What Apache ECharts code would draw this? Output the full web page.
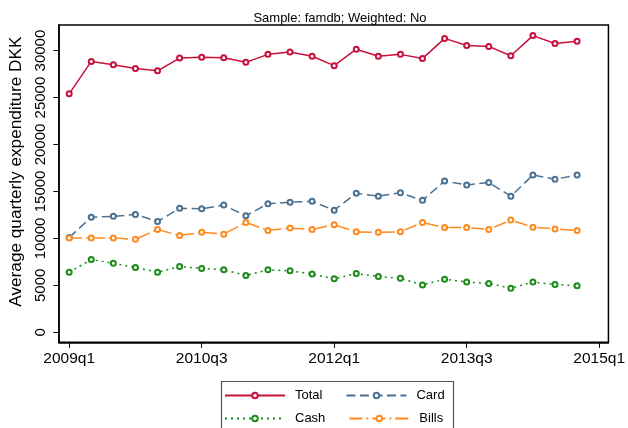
<!DOCTYPE html>
<html style="height: 100%">
<head>
    <meta charset="utf-8">
    <title>Average quarterly expenditure</title>
    <script src="https://cdn.jsdelivr.net/npm/echarts@6/dist/echarts.min.js"></script>
</head>
<body style="height: 100%; margin: 0; background: #fff">
    <div id="chart" style="width: 628px; height: 428px"></div>
    <script>
        // quarters 2009q1 .. 2014q4
        const quarters = ['2009q1', '2009q2', '2009q3', '2009q4', '2010q1', '2010q2', '2010q3', '2010q4',
            '2011q1', '2011q2', '2011q3', '2011q4', '2012q1', '2012q2', '2012q3', '2012q4',
            '2013q1', '2013q2', '2013q3', '2013q4', '2014q1', '2014q2', '2014q3', '2014q4'];
        const total = [25400, 28850, 28500, 28100, 27850, 29200, 29300, 29250, 28750, 29600, 29850, 29400,
            28400, 30150, 29400, 29600, 29150, 31300, 30550, 30450, 29450, 31600, 30750, 31000];
        const card = [10100, 12250, 12350, 12550, 11800, 13200, 13150, 13550, 12400, 13700, 13850, 13950,
            13000, 14800, 14500, 14850, 14050, 16100, 15700, 15950, 14500, 16750, 16300, 16750];
        const cash = [6400, 7750, 7350, 6900, 6400, 7000, 6800, 6650, 6050, 6650, 6550, 6200,
            5700, 6250, 5950, 5750, 5050, 5650, 5350, 5200, 4700, 5350, 5100, 4950];
        const bills = [10050, 10050, 10050, 9900, 10950, 10300, 10650, 10450, 11700, 10850, 11100, 10950,
            11450, 10700, 10650, 10700, 11700, 11150, 11150, 10950, 11950, 11200, 11000, 10850];

        // axis ticks
        const xTicks = [0, 6, 12, 18, 24];
        const xTickLabels = ['2009q1', '2010q3', '2012q1', '2013q3', '2015q1'];
        const yTicks = [0, 5000, 10000, 15000, 20000, 25000, 30000];

        const font = "'Liberation Sans', Arial, sans-serif";

        function makeSeries(name, values, color, dash) {
            return {
                name: name,
                type: 'line',
                data: values.map((v, i) => [i, v]),
                symbol: 'emptyCircle',
                symbolSize: 5,
                color: color,
                itemStyle: { color: color, borderWidth: 1.2 },
                lineStyle: { color: color, width: 1.5, type: dash },
                emphasis: { disabled: true },
                animation: false
            };
        }

        const legendCommon = {
            itemWidth: 60,
            itemHeight: 7,
            itemGap: 23,
            padding: 0,
            textStyle: { fontFamily: font, fontSize: 13, color: '#000', padding: [0, 0, 0, 5] }
        };

        const option = {
            backgroundColor: '#fff',
            title: {
                text: 'Sample: famdb; Weighted: No',
                left: 335,
                textAlign: 'center',
                top: 7,
                textStyle: { fontFamily: font, fontSize: 13, fontWeight: 'normal', color: '#000' }
            },
            grid: {
                left: 57.3,
                right: 15.7,
                top: 25,
                bottom: 85.7,
                show: true,
                borderColor: '#000',
                borderWidth: 1.5,
                containLabel: false
            },
            xAxis: {
                type: 'value',
                min: -0.466,
                max: 24.42,
                splitLine: { show: false },
                axisLine: { show: true, onZero: false, lineStyle: { color: '#000', width: 1.5 } },
                axisTick: { show: true, length: 5.5, customValues: xTicks, lineStyle: { color: '#000', width: 1 } },
                axisLabel: {
                    customValues: xTicks,
                    formatter: v => xTickLabels[xTicks.indexOf(v)],
                    fontFamily: font, fontSize: 15.5, color: '#000', margin: 8
                }
            },
            yAxis: {
                type: 'value',
                min: -1065,
                max: 32727,
                name: 'Average quarterly expenditure DKK',
                nameLocation: 'middle',
                nameRotate: 90,
                nameGap: 27,
                nameTextStyle: { fontFamily: font, fontSize: 17.2, color: '#000', padding: [0, 0, 0, 24] },
                splitLine: { show: false },
                axisLine: { show: true, onZero: false, lineStyle: { color: '#000', width: 1.5 } },
                axisTick: { show: true, length: 5.5, customValues: yTicks, lineStyle: { color: '#000', width: 1 } },
                axisLabel: {
                    customValues: yTicks,
                    formatter: v => String(v),
                    rotate: 90,
                    fontFamily: font, fontSize: 15, color: '#000', margin: 11
                }
            },
            legend: [
                Object.assign({ data: ['Total', 'Card'], left: 224, top: 389 }, legendCommon),
                Object.assign({ data: ['Cash', 'Bills'], left: 224, top: 412 }, legendCommon)
            ],
            graphic: [{
                type: 'rect',
                left: 219,
                top: 379,
                shape: { width: 232, height: 70 },
                style: { fill: 'none', stroke: '#555', lineWidth: 1.2 },
                z: -1
            }],
            series: [
                makeSeries('Total', total, '#c8103c', 'solid'),
                makeSeries('Card', card, '#4c7190', [9, 4.5]),
                makeSeries('Cash', cash, '#1a8c1a', [2, 4]),
                makeSeries('Bills', bills, '#ff8a1c', [13, 4, 2, 4])
            ]
        };

        const chart = echarts.init(document.getElementById('chart'), null, { renderer: 'canvas' });
        chart.setOption(option);
    </script>
</body>
</html>
